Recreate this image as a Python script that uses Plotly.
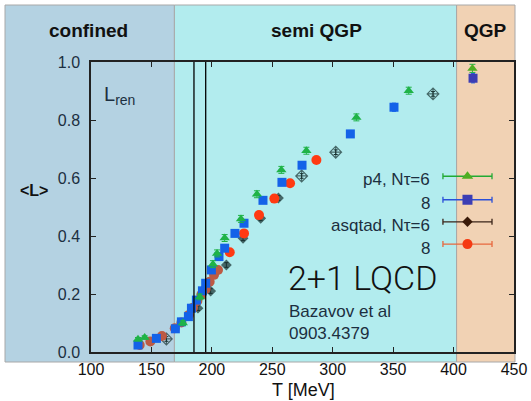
import plotly.graph_objects as go

# ---------------- data ----------------
# p4, N_tau = 6 (green triangles)
p4_6_T = [138.9, 144.4, 176.0, 190.0, 200.9, 204.3, 210.6, 224.1, 237.3, 257.5, 278.2, 319.6, 362.9, 415.6]
p4_6_L = [0.044, 0.050, 0.100, 0.190, 0.303, 0.340, 0.393, 0.459, 0.544, 0.628, 0.694, 0.809, 0.901, 0.978]
p4_6_E = [0.006, 0.006, 0.008, 0.010, 0.012, 0.012, 0.012, 0.012, 0.012, 0.012, 0.012, 0.012, 0.012, 0.014]

# p4, N_tau = 8 (blue squares)
p4_8_T = [138.9, 154.1, 169.8, 174.8, 180.6, 183.1, 187.2, 192.2, 194.9, 199.6, 205.9, 210.6,
          219.1, 226.6, 242.3, 258.0, 274.6, 314.6, 350.7, 416.1]
p4_8_L = [0.024, 0.047, 0.080, 0.104, 0.122, 0.151, 0.179, 0.211, 0.237, 0.283, 0.329, 0.358,
          0.409, 0.444, 0.523, 0.585, 0.644, 0.752, 0.844, 0.944]
p4_8_E = [0.005, 0.005, 0.005, 0.006, 0.006, 0.006, 0.006, 0.006, 0.006, 0.006, 0.006, 0.006,
          0.006, 0.006, 0.008, 0.008, 0.010, 0.012, 0.014, 0.016]

# asqtad, N_tau = 6 (dark diamonds)
asq6_T = [162.4, 188.5, 199.0, 212.0, 225.8, 240.4, 255.1, 274.3, 302.5, 383.0]
asq6_L = [0.045, 0.151, 0.210, 0.300, 0.392, 0.461, 0.531, 0.607, 0.689, 0.890]
asq6_open = [True, False, False, False, False, False, False, True, True, True]

# asqtad, N_tau = 8 (red circles)
asq8_T = [140.3, 149.1, 158.7, 169.3, 174.8, 181.1, 184.4, 188.0, 191.3, 194.9, 198.2, 201.8, 205.1,
          214.8, 226.6, 239.0, 251.7, 264.7, 286.5]
asq8_L = [0.024, 0.036, 0.055, 0.082, 0.102, 0.128, 0.153, 0.176, 0.197, 0.217, 0.242, 0.266, 0.283,
          0.344, 0.409, 0.472, 0.529, 0.582, 0.662]

# transition band lines (MeV)
VLINES_T = [185.2, 194.9]

# regions
REGIONS = ["confined", "semi QGP", "QGP"]
REGION_EDGES_T = [169.0, 402.5]

LEGEND_LABELS = ["p4, Nτ=6", "8", "asqtad, Nτ=6", "8"]

X_TICKS = [100, 150, 200, 250, 300, 350, 400, 450]
Y_TICKS = [0.0, 0.2, 0.4, 0.6, 0.8, 1.0]

# ---------------- styling ----------------
GREEN = "#1fb347"
GREEN_Q = "#4fae22"
BLUE = "#1462e8"
BLUE_Q = "#3c3db4"
DARK = "#17302f"
RED = "#ff3a12"
BROWN = "#bd5a44"
TXT = "#1c2f40"

W, H = 531, 401
L_M, R_M, T_M, B_M = 91, 17, 62, 49
PW, PH = W - L_M - R_M, H - T_M - B_M


def px_to_paper_x(px):
    return (px - L_M) / PW


def px_to_paper_y(py):
    return (H - B_M - py) / PH


def x_to_paper(t):
    return (t - 100) / 350


fig = go.Figure()

# region backgrounds
band_cols = ["#b4d2e2", "#b2ecee", "#f1d2b4"]
band_x = [px_to_paper_x(5), x_to_paper(REGION_EDGES_T[0]), x_to_paper(REGION_EDGES_T[1]), px_to_paper_x(515)]
label_px = [88, 316, 485]
for i, name in enumerate(REGIONS):
    fig.add_shape(type="rect", xref="paper", yref="paper",
                  x0=band_x[i], x1=band_x[i + 1],
                  y0=px_to_paper_y(362), y1=px_to_paper_y(5),
                  fillcolor=band_cols[i], line=dict(color="#a8a8a8", width=1), layer="below")
    fig.add_annotation(xref="paper", yref="paper", xanchor="center", yanchor="middle",
                       x=px_to_paper_x(label_px[i]), y=px_to_paper_y(31),
                       text=f"<b>{name}</b>", showarrow=False,
                       font=dict(family="Liberation Sans", size=19, color="#111"))

for t in VLINES_T:
    fig.add_shape(type="line", xref="x", yref="y", x0=t, x1=t, y0=0, y1=1,
                  line=dict(color="black", width=1.3))


def region_color(ts, base, qgp):
    return [qgp if t > REGION_EDGES_T[1] else base for t in ts]


fig.add_trace(go.Scatter(x=asq6_T, y=asq6_L, mode="markers",
                         marker=dict(symbol=["diamond-cross-open" if o else "diamond" for o in asq6_open],
                                     size=[9 if o else 7 for o in asq6_open], color=DARK,
                                     line=dict(color=DARK, width=1.2)),
                         error_y=dict(type="constant", value=0.008, color=DARK, thickness=1, width=2)))
fig.add_trace(go.Scatter(x=asq8_T, y=asq8_L, mode="markers",
                         marker=dict(symbol="circle", size=10,
                                     color=[BROWN if t < 210 else RED for t in asq8_T])))
fig.add_trace(go.Scatter(x=p4_8_T, y=p4_8_L, mode="markers",
                         marker=dict(symbol="square", size=9, color=region_color(p4_8_T, BLUE, BLUE_Q)),
                         error_y=dict(type="data", array=p4_8_E, color=BLUE, thickness=1, width=2)))
fig.add_trace(go.Scatter(x=p4_6_T, y=p4_6_L, mode="markers",
                         marker=dict(symbol="triangle-up", size=9, color=region_color(p4_6_T, GREEN, GREEN_Q)),
                         error_y=dict(type="data", array=p4_6_E, color=GREEN, thickness=1, width=3)))

# legend (custom, with horizontal error bars)
leg_x = 411.5
leg_err = 20.3
leg_marker_y = [0.606, 0.525, 0.449, 0.372]
leg_text_y = [0.594, 0.512, 0.437, 0.357]
leg_styles = [
    dict(symbol="triangle-up", size=10, color=GREEN_Q, line="#22aa33"),
    dict(symbol="square", size=10, color=BLUE_Q, line="#2a4fd8"),
    dict(symbol="diamond", size=8, color="#3a1a08", line="#3a2418"),
    dict(symbol="circle", size=10, color="#f53a12", line="#e8683e"),
]
for lab, my, ty, st in zip(LEGEND_LABELS, leg_marker_y, leg_text_y, leg_styles):
    fig.add_trace(go.Scatter(x=[leg_x], y=[my], mode="markers",
                             marker=dict(symbol=st["symbol"], size=st["size"], color=st["color"]),
                             error_x=dict(type="constant", value=leg_err, color=st["line"], thickness=1.3, width=3)))
    fig.add_annotation(x=381.9, y=ty, xref="x", yref="y", text=lab, showarrow=False,
                       xanchor="right", font=dict(family="Liberation Sans", size=17, color=TXT))

# text labels
fig.add_annotation(x=109.5, y=0.886, xref="x", yref="y", text="L<sub>ren</sub>", showarrow=False,
                   xanchor="left", font=dict(family="Liberation Sans", size=20, color=TXT))
fig.add_annotation(x=261.5, y=0.255, xref="x", yref="y", text="2+1 LQCD", showarrow=False,
                   xanchor="left", font=dict(family="Roboto", size=34, color="#111", weight=300))
fig.add_annotation(x=262.3, y=0.138, xref="x", yref="y", text="Bazavov et al", showarrow=False,
                   xanchor="left", font=dict(family="Liberation Sans", size=17, color=TXT))
fig.add_annotation(x=262.3, y=0.064, xref="x", yref="y", text="0903.4379", showarrow=False,
                   xanchor="left", font=dict(family="Liberation Sans", size=17, color=TXT))

# axis titles
fig.add_annotation(xref="paper", yref="paper", x=0.503, y=px_to_paper_y(390), xanchor="center",
                   yanchor="middle", text="T [MeV]",
                   showarrow=False, font=dict(family="Liberation Sans", size=18, color="#111"))
fig.add_annotation(xref="paper", yref="paper", x=px_to_paper_x(34), y=px_to_paper_y(190), xanchor="center",
                   yanchor="middle", textangle=0, text="<b>&lt;L&gt;</b>",
                   showarrow=False, font=dict(family="Liberation Sans", size=16, color="#111"))

fig.update_xaxes(range=[100, 450], tickvals=X_TICKS, ticks="inside", ticklen=5, tickcolor="#222",
                 showline=True, linecolor="#222", linewidth=1.5, mirror="ticks", showgrid=False,
                 zeroline=False, tickfont=dict(family="Liberation Sans", size=16, color="#111"),
                 ticklabelstandoff=2, automargin=False)
fig.update_yaxes(range=[0, 1], tickvals=Y_TICKS, tickformat=".1f", ticks="inside", ticklen=5, tickcolor="#222",
                 showline=True, linecolor="#222", linewidth=1.5, mirror="ticks", showgrid=False,
                 zeroline=False, tickfont=dict(family="Liberation Sans", size=16, color=TXT),
                 ticklabelstandoff=6, automargin=False)
fig.update_layout(width=W, height=H, margin=dict(l=L_M, r=R_M, t=T_M, b=B_M, autoexpand=False),
                  paper_bgcolor="white", plot_bgcolor="rgba(0,0,0,0)", showlegend=False)

fig.write_html("out.html")
